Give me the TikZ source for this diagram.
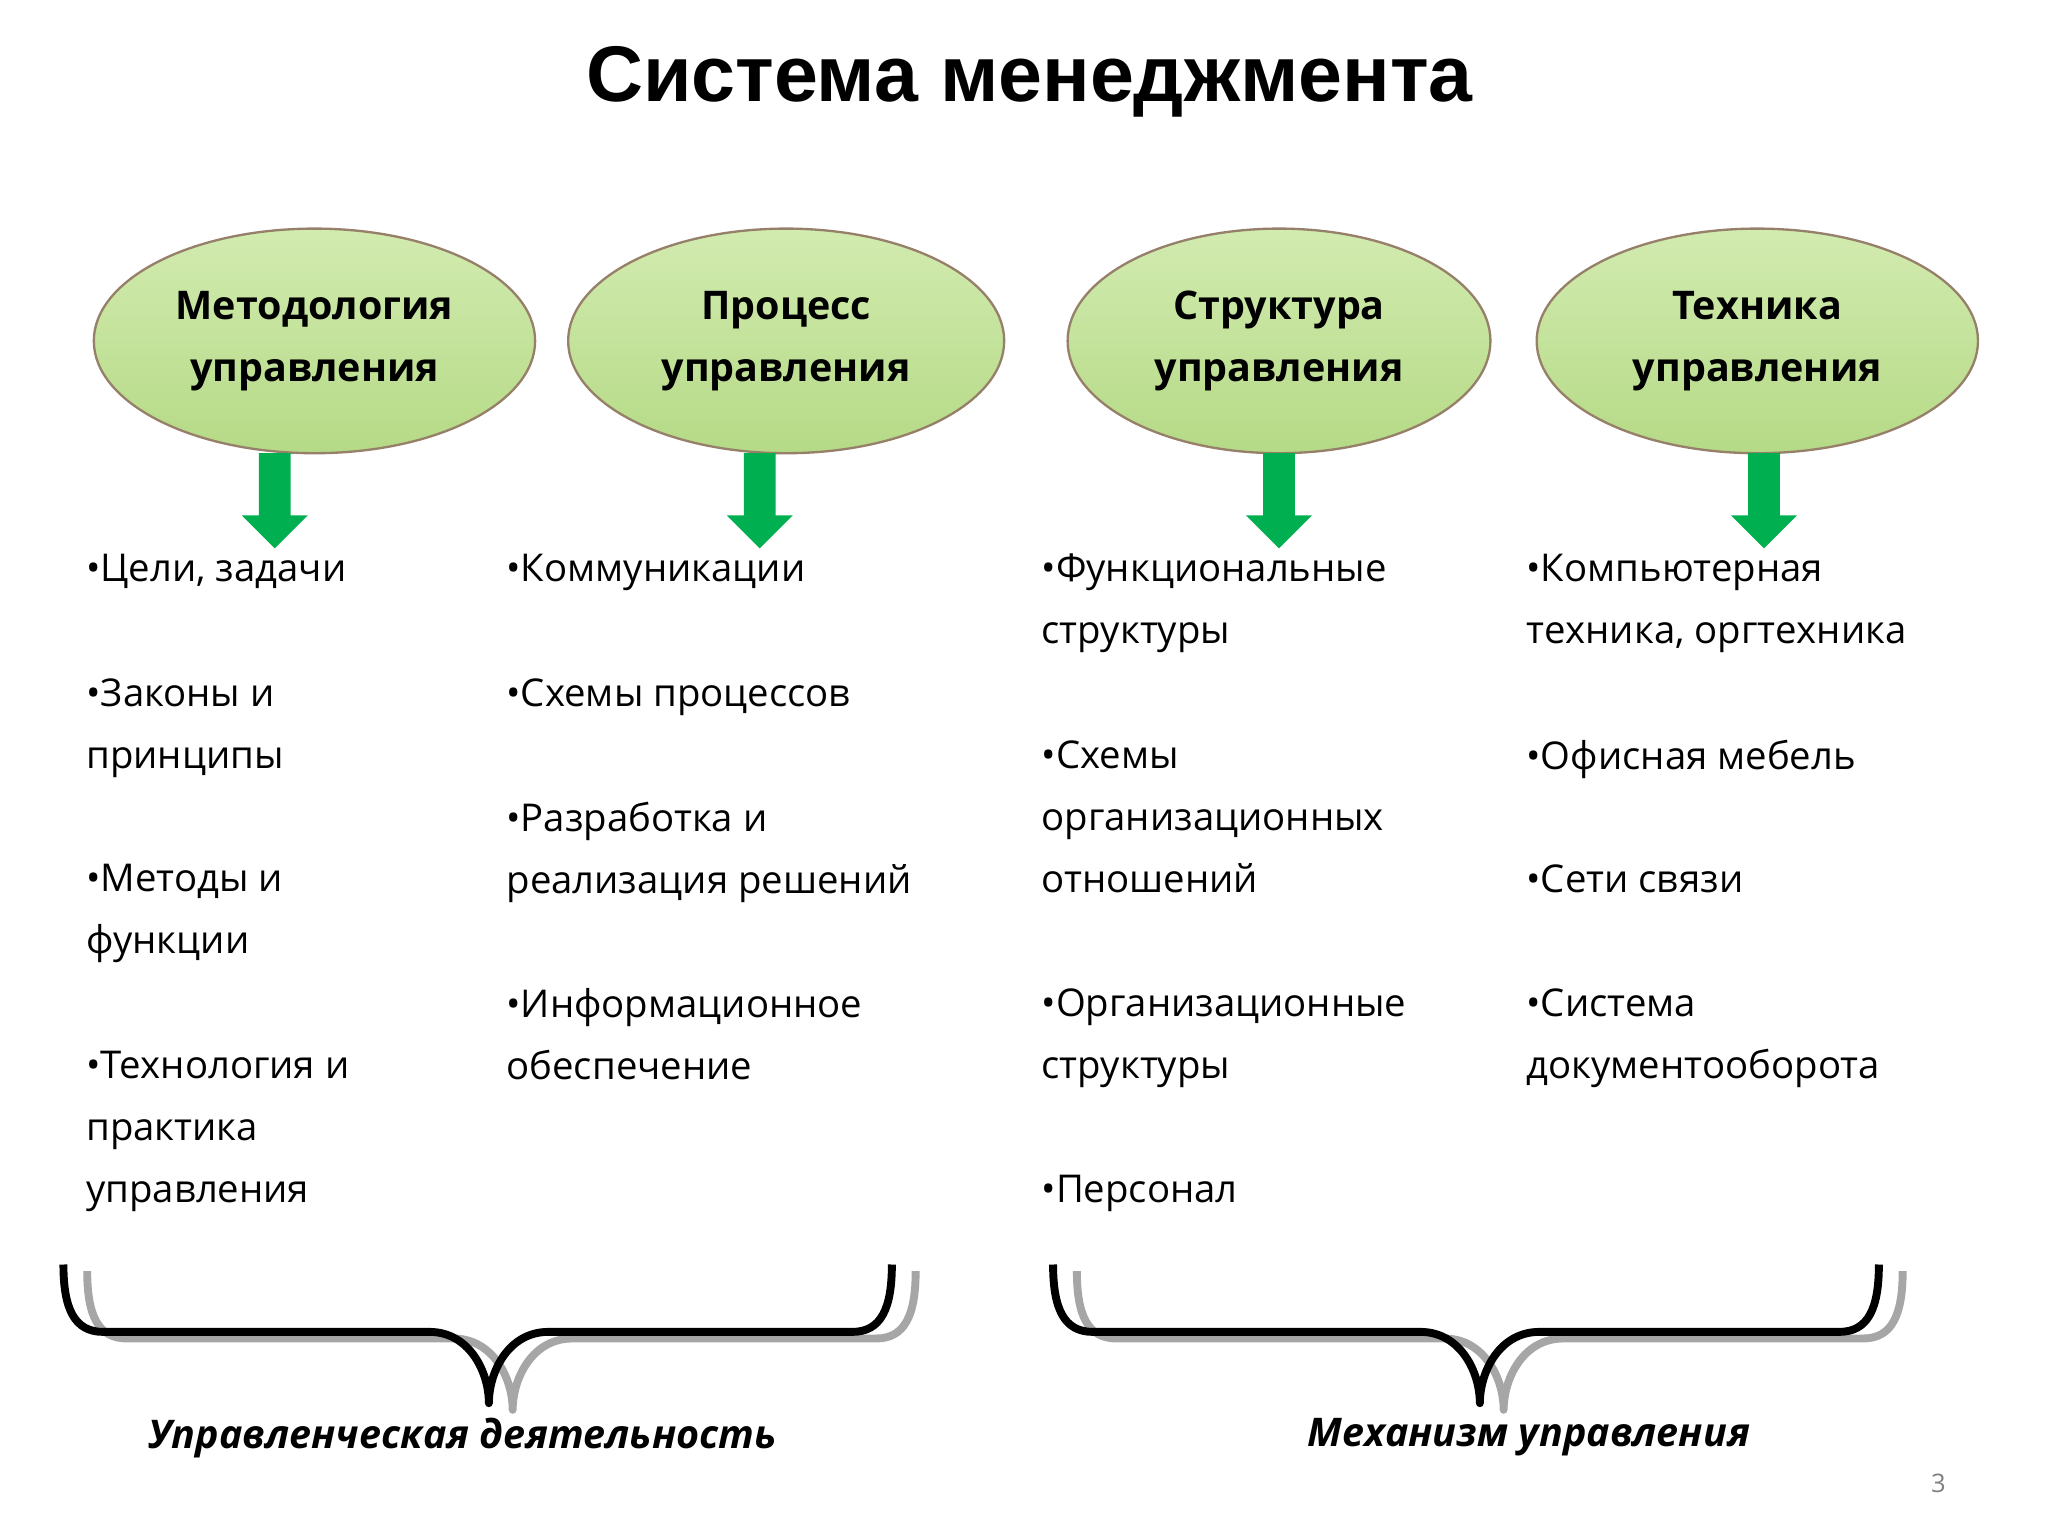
\documentclass[tikz,border=0pt]{standalone}
\usepackage{fontspec}
\setmainfont{Open Sans}
\newfontfamily\titlefont{Liberation Sans}
\usetikzlibrary{shapes.geometric}
\definecolor{arrg}{HTML}{00B050}
\definecolor{ovtop}{HTML}{D2EBB0}
\definecolor{ovbot}{HTML}{B5DA86}
\begin{document}
\begin{tikzpicture}[x=0.02cm,y=-0.02cm,
  item/.style={anchor=north west,align=left,font=\fontsize{16.5}{26.7}\selectfont,inner sep=0pt},
  brc/.style={line width=3.4pt,line join=round},
  lab/.style={font=\fontsize{17}{21}\selectfont\bfseries\itshape}]
\useasboundingbox (0,0) rectangle (1550,1162.5);
\node[font=\titlefont\fontsize{34}{38}\selectfont\bfseries] (title) at (779,62) {Система менеджмента};
\foreach \n/\x/\w/\t in {a/238/334/{Методология\\управления},b/595/330/{Процесс\\управления},c/968/320/{Структура\\управления},d/1330/334/{Техника\\управления}}{
  \node[ellipse,draw=brown!35!gray,line width=1pt,top color=ovtop,bottom color=ovbot,minimum width=\w*0.02cm,minimum height=170*0.02cm,font=\fontsize{17}{26.7}\selectfont\bfseries,align=center] (\n) at (\x,258) {\t};
}
\foreach \x in {208,575,968,1335}{
  \fill[arrg] (\x-12,343) -- (\x+12,343) -- (\x+12,390) -- (\x+25,390) -- (\x,415) -- (\x-25,390) -- (\x-12,390) -- cycle;
}
\foreach \n/\x/\y/\t in {
 a1/65/440/{•Цели, задачи}, a2/65/534/{•Законы и\\принципы}, a3/65/675/{•Методы и\\функции}, a4/65/816/{•Технология и\\практика\\управления},
 b1/383/440/{•Коммуникации}, b2/383/534/{•Схемы процессов}, b3/383/628/{•Разработка и\\реализация решений}, b4/383/769/{•Информационное\\обеспечение},
 c1/788/440/{•Функциональные\\структуры}, c2/788/581/{•Схемы\\организационных\\отношений}, c3/788/769/{•Организационные\\структуры}, c4/788/910/{•Персонал},
 d1/1155/440/{•Компьютерная\\техника, оргтехника}, d2/1155/581/{•Офисная мебель}, d3/1155/675/{•Сети связи}, d4/1155/769/{•Система\\документооборота}}{
  \node[item] (\n) at (\x,\y-21) {\t};
}
\foreach \l/\m/\r/\c/\dy in {66/388/693/gray!70/5, 48/370/675/black/0, 815/1138/1440/gray!70/5, 797/1120/1422/black/0}{
 \draw[brc,draw=\c] (\l,957+\dy) .. controls (\l,990+\dy) and (\l+8,1008+\dy) .. (\l+30,1008+\dy) -- (\m-45,1008+\dy) .. controls (\m-15,1008+\dy) and (\m,1038+\dy) .. (\m,1062+\dy)
   .. controls (\m,1038+\dy) and (\m+15,1008+\dy) .. (\m+45,1008+\dy) -- (\r-30,1008+\dy) .. controls (\r-8,1008+\dy) and (\r,990+\dy) .. (\r,957+\dy);
}
\node[lab] (l1) at (350,1088) {Управленческая деятельность};
\node[lab] (l2) at (1157,1088) {Механизм управления};
\node[text=gray,font=\fontsize{11}{13}\selectfont] (pg) at (1467,1123) {3};
\end{tikzpicture}
\end{document}
